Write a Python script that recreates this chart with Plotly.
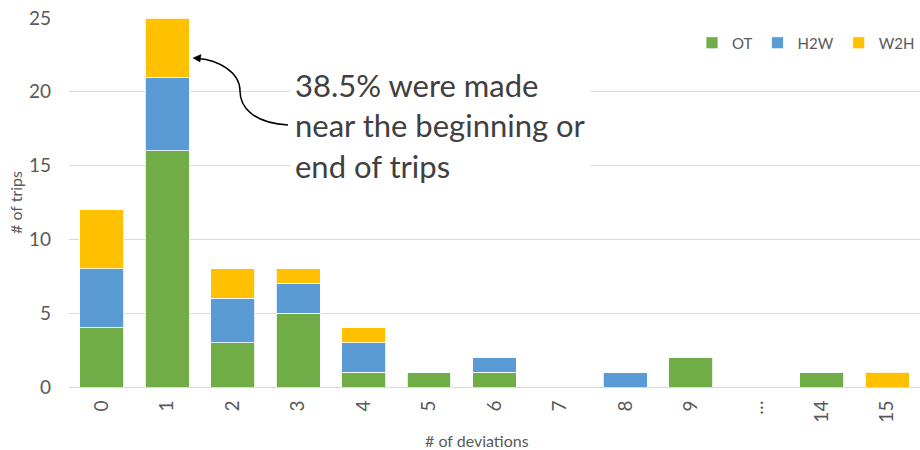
import plotly.graph_objects as go

# Trip counts by number of deviations, split by trip type
categories = ["0", "1", "2", "3", "4", "5", "6", "7", "8", "9", "…", "14", "15"]
ot = [4, 16, 3, 5, 1, 1, 1, 0, 0, 2, 0, 1, 0]
h2w = [4, 5, 3, 2, 2, 0, 1, 0, 1, 0, 0, 0, 0]
w2h = [4, 4, 2, 1, 1, 0, 0, 0, 0, 0, 0, 0, 1]

series_names = ["OT", "H2W", "W2H"]
series_colors = ["#70AD47", "#5B9BD5", "#FFC000"]

W, H = 920, 450
ML, MR, MT, MB = 69, 0, 18, 63
PW, PH = W - ML - MR, H - MT - MB


def px(x, y):
    """Pixel position -> paper coordinates."""
    return (x - ML) / PW, (H - MB - y) / PH


def path(cmds):
    out = []
    for c in cmds:
        if isinstance(c, str):
            out.append(c)
        else:
            xp, yp = px(*c)
            out.append(f"{xp:.5f},{yp:.5f}")
    return " ".join(out)


fig = go.Figure()
for name, vals, col in zip(series_names, [ot, h2w, w2h], series_colors):
    fig.add_trace(go.Bar(
        x=categories, y=vals, name=name,
        marker=dict(color=col, line=dict(color="rgba(255,255,255,0.8)", width=1)),
    ))

# curved callout arrow
curve = path(["M", (288, 125), "C", (252, 123), (240, 106), (240, 91),
              "C", (240, 72), (218, 60), (198, 58.5)])
head = path(["M", (193, 58), "L", (201, 54.5), "L", (200, 62), "Z"])

fig.update_layout(
    width=W, height=H,
    margin=dict(l=ML, r=MR, t=MT, b=MB),
    barmode="stack", bargap=0.33,
    plot_bgcolor="white", paper_bgcolor="white",
    font=dict(family="Lato, 'Open Sans', sans-serif", color="#595959"),
    xaxis=dict(
        type="category", tickangle=-90, tickfont=dict(size=19, color="#595959"),
        showline=True, linecolor="#d9d9d9", linewidth=1, ticks="",
        ticklabelstandoff=5,
    ),
    yaxis=dict(
        range=[0, 25], dtick=5, showgrid=True, gridcolor="#d9d9d9", gridwidth=1,
        zeroline=False, showline=False, tickfont=dict(size=19, color="#595959"),
        ticklabelstandoff=17,
        title=dict(text="# of trips", font=dict(size=16, color="#595959"), standoff=2),
    ),
    legend=dict(
        orientation="h", x=1, xanchor="right", y=px(0, 43)[1], yanchor="middle",
        font=dict(size=15, color="#595959"), bgcolor="rgba(0,0,0,0)",
        traceorder="normal",
    ),
    shapes=[
        dict(type="path", xref="paper", yref="paper", path=curve,
             line=dict(color="black", width=1.5), layer="above"),
        dict(type="path", xref="paper", yref="paper", path=head,
             fillcolor="black", line=dict(color="black", width=0.5), layer="above"),
    ],
    annotations=[
        dict(xref="paper", yref="paper", x=px(290, 0)[0], y=px(0, 125)[1],
             xanchor="left", yanchor="middle", align="left", showarrow=False,
             text="38.5% were made<br>near the beginning or<br>end of trips",
             font=dict(size=31, color="#404040"), bgcolor="white", borderpad=4),
        # x-axis title
        dict(xref="paper", yref="paper", x=px(477, 0)[0], y=px(0, 440)[1],
             xanchor="center", yanchor="middle", showarrow=False,
             text="# of deviations", font=dict(size=16, color="#595959")),
    ],
)

fig.write_html("out.html")
